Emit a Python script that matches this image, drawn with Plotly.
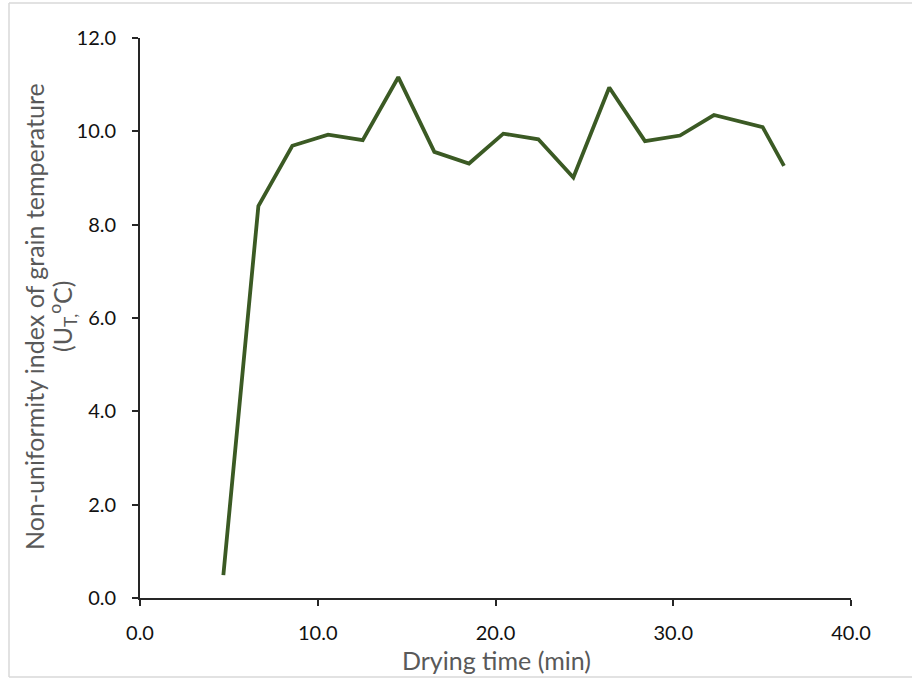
import plotly.graph_objects as go

# Drying time (min) and the non-uniformity index of grain temperature (°C)
drying_time = [4.69, 6.66, 8.57, 10.58, 12.53, 14.53, 16.56, 18.51, 20.44,
               22.41, 24.38, 26.40, 28.41, 30.38, 32.29, 35.03, 36.23]
uniformity_index = [0.49, 8.40, 9.69, 9.93, 9.81, 11.16, 9.56, 9.31, 9.95,
                    9.83, 9.01, 10.94, 9.79, 9.91, 10.35, 10.09, 9.26]

x_ticks = [0, 10, 20, 30, 40]
y_ticks = [0, 2, 4, 6, 8, 10, 12]

W, H = 912, 679
L, R, T, B = 140, 61, 38, 81
pw, ph = W - L - R, H - T - B


def px_x(p):
    return (p - L) / pw


def px_y(p):
    return (H - B - p) / ph


FONT = "Lato"
TICK_COLOR = "#111111"
TITLE_COLOR = "#595959"
AXIS_COLOR = "#262626"
FRAME_COLOR = "#d9d9d9"

fig = go.Figure()
fig.add_trace(go.Scatter(
    x=drying_time, y=uniformity_index, mode="lines",
    line=dict(color="#3b5a24", width=3.8),
    hoverinfo="x+y", showlegend=False,
))

axis_common = dict(
    showgrid=False, zeroline=False, showline=True, linecolor=AXIS_COLOR,
    linewidth=1.8, ticks="outside", ticklen=6, tickwidth=1.8,
    tickcolor=AXIS_COLOR, tickformat=".1f",
    tickfont=dict(family=FONT, size=20, color=TICK_COLOR),
)

fig.update_xaxes(range=[0, 40], tickvals=x_ticks, ticklabelstandoff=10,
                 **axis_common)
fig.update_yaxes(range=[0, 12], tickvals=y_ticks, ticklabelstandoff=12,
                 **axis_common)

annotations = [
    dict(text="Drying time (min)", x=px_x(496), y=px_y(660),
         xref="paper", yref="paper", showarrow=False,
         xanchor="center", yanchor="middle",
         font=dict(family=FONT, size=25, color=TITLE_COLOR)),
    dict(text="Non-uniformity index of grain temperature",
         x=px_x(34), y=px_y(317), xref="paper", yref="paper",
         showarrow=False, textangle=-90, xanchor="center", yanchor="middle",
         font=dict(family=FONT, size=25, color=TITLE_COLOR)),
    dict(text="(U<sub>T,</sub><sup>o</sup>C)",
         x=px_x(62), y=px_y(317), xref="paper", yref="paper",
         showarrow=False, textangle=-90, xanchor="center", yanchor="middle",
         font=dict(family=FONT, size=25, color=TITLE_COLOR)),
]

# light frame edges (left, top, bottom) around the chart area
frame = dict(type="line", xref="paper", yref="paper",
             line=dict(color=FRAME_COLOR, width=1.5), layer="below")
shapes = [
    dict(frame, x0=px_x(9), x1=px_x(9), y0=px_y(677), y1=px_y(3)),
    dict(frame, x0=px_x(9), x1=px_x(912), y0=px_y(3), y1=px_y(3)),
    dict(frame, x0=px_x(9), x1=px_x(912), y0=px_y(677), y1=px_y(677)),
]

fig.update_layout(
    width=W, height=H,
    margin=dict(l=L, r=R, t=T, b=B),
    paper_bgcolor="white", plot_bgcolor="white",
    annotations=annotations, shapes=shapes,
)

fig.write_html("out.html")
